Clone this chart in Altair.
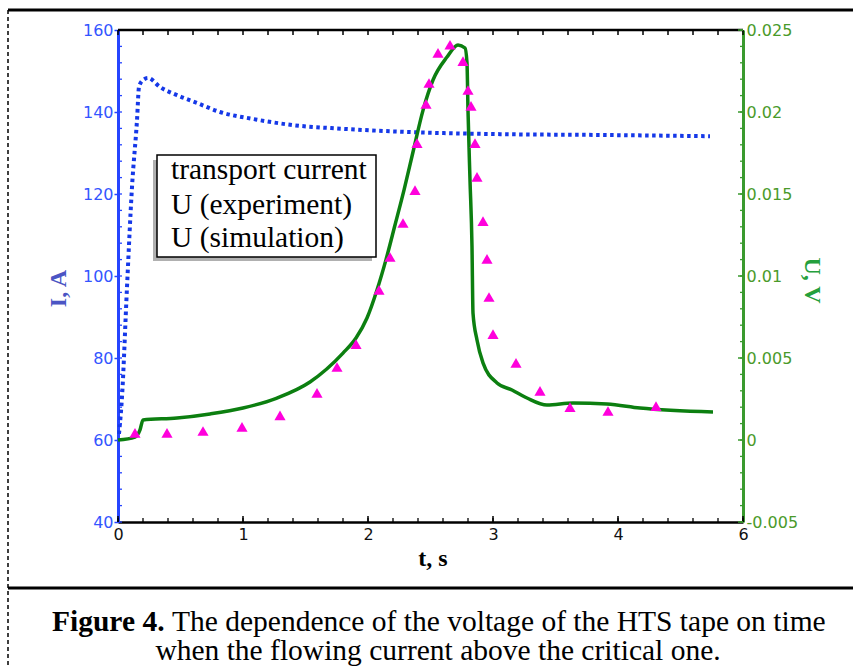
import altair as alt
import pandas as pd

W, H = 625, 492

# ---- data ----
cur_t = [0.008, 0.032, 0.072, 0.112, 0.152, 0.168, 0.2, 0.24, 0.336, 0.472, 0.632, 0.816,
         1.08, 1.4, 1.8, 2.336, 3.056, 3.856, 4.736]
cur_I = [61.5, 70.5, 97.3, 121.7, 138.0, 146.1, 147.8, 148.3, 146.1, 144.1, 142.2, 140.0,
         138.3, 136.8, 135.9, 135.1, 134.6, 134.4, 134.1]

sim_t = [0.0, 0.136, 0.176, 0.2, 0.472, 0.736, 1.0, 1.272, 1.536, 1.8, 1.904, 1.992, 2.072,
         2.144, 2.216, 2.288, 2.36, 2.44, 2.52, 2.632, 2.72, 2.776, 2.792, 2.8, 2.816, 2.832,
         2.84, 2.872, 2.92, 3.032, 3.152, 3.272, 3.432, 3.64, 3.912, 4.176, 4.76]
sim_U = [0.0, 0.00018, 0.00061, 0.00122, 0.00134, 0.00159, 0.00195, 0.00256, 0.00354, 0.0053,
         0.00622, 0.00744, 0.00915, 0.011, 0.01311, 0.01524, 0.01756, 0.0201, 0.02195, 0.02335,
         0.02409, 0.0239, 0.023, 0.0201, 0.01585, 0.01177, 0.00774, 0.0061, 0.0047, 0.00348,
         0.00305, 0.00256, 0.00213, 0.00226, 0.0022, 0.00195, 0.00171]

exp_t = [0.136, 0.392, 0.68, 0.992, 1.296, 1.592, 1.752, 1.904, 2.088, 2.176, 2.28, 2.376,
         2.392, 2.464, 2.488, 2.56, 2.656, 2.76, 2.8, 2.824, 2.856, 2.872, 2.92, 2.952, 2.968,
         3.0, 3.184, 3.376, 3.616, 3.92, 4.304]
exp_U = [0.00043, 0.00043, 0.00055, 0.0008, 0.0015, 0.00287, 0.00445, 0.00585, 0.00915,
         0.01116, 0.01323, 0.01524, 0.0181, 0.0205, 0.02177, 0.0236, 0.0241, 0.0231, 0.02134,
         0.02037, 0.0181, 0.01604, 0.01335, 0.01104, 0.00872, 0.00646, 0.0047, 0.003, 0.002,
         0.00177, 0.00207]

x_major = [0, 1, 2, 3, 4, 5]
x_labels_map = "datum.value == 5 ? '6' : datum.label"
x_minor = [round(i * 0.2, 1) for i in range(26)]
left_major = [40, 60, 80, 100, 120, 140, 160]
left_minor = list(range(40, 161, 4))
right_major = [-0.005, 0.0, 0.005, 0.01, 0.015, 0.02, 0.025]
right_minor = [round(-0.005 + i * 0.001, 3) for i in range(31)]

legend_lines = ["transport current", "U (experiment)", "U (simulation)"]
caption_bold = "Figure 4."
caption_rest = "The dependence of the voltage of the HTS tape on time"
caption_line2 = "when the flowing current above the critical one."

# ---- styles ----
SANS = "DejaVu Sans"
SERIF = "Liberation Serif"
BLUE_AX = "#2645ff"
BLUE_LINE = "#1538e8"
GREEN_AX = "#3a9a2e"
GREEN_LINE = "#0c7f10"
MAGENTA = "#ff00dc"

xscale = alt.Scale(domain=[0, 5], nice=False, zero=False)
xaxis = alt.Axis(title="t, s", values=x_major, labelExpr=x_labels_map, grid=False,
                 domainColor="black", domainWidth=2.5, ticks=False, tickSize=0,
                 labelFont=SANS, labelFontSize=16, labelColor="#111111", labelPadding=4,
                 labelFlush=False, titleFont=SERIF, titleFontSize=24, titleFontWeight="bold",
                 titleColor="black", titleX=W / 2 + 2, titleY=36, titleBaseline="middle",
                 titleAlign="center")

lscale = alt.Scale(domain=[40, 160], nice=False, zero=False)
laxis = alt.Axis(title="I, A", orient="left", values=left_major, grid=False,
                 domainColor=BLUE_AX, domainWidth=3, tickColor=BLUE_AX, tickSize=4, tickWidth=1.5,
                 labelFont=SANS, labelFontSize=16, labelColor="#3355ff", labelPadding=1,
                 labelFlush=False, titleFont=SERIF, titleFontSize=24, titleFontWeight="bold",
                 titleColor="#4b55c4", titleAngle=270, titleX=-60, titleY=258,
                 titleBaseline="middle", titleAlign="center")

rscale = alt.Scale(domain=[-0.005, 0.025], nice=False, zero=False)
raxis = alt.Axis(title="U, V", orient="right", values=right_major, grid=False,
                 labelExpr="'' + round(datum.value * 1000) / 1000",
                 domainColor=GREEN_AX, domainWidth=3, ticks=False, tickSize=0,
                 labelFont=SANS, labelFontSize=16, labelColor="#4a9a2a", labelPadding=3,
                 labelFlush=False, titleFont=SERIF, titleFontSize=24, titleFontWeight="bold",
                 titleColor="#25a03c", titleAngle=90, titleX=68, titleY=250,
                 titleBaseline="middle", titleAlign="center")


def X(f):
    return alt.X(f, type="quantitative", scale=xscale, axis=xaxis)


def YL(f):
    return alt.Y(f, type="quantitative", scale=lscale, axis=laxis)


def YR(f):
    return alt.Y(f, type="quantitative", scale=rscale, axis=raxis)


cur_df = pd.DataFrame({"t": cur_t, "I": cur_I})
sim_df = pd.DataFrame({"t": sim_t, "U": sim_U})
exp_df = pd.DataFrame({"t": exp_t, "U": exp_U})

blue = alt.Chart(cur_df).mark_line(color=BLUE_LINE, strokeWidth=4, strokeDash=[3.5, 3.5],
                                   interpolate="monotone").encode(x=X("t"), y=YL("I"))

lmin = alt.Chart(pd.DataFrame({"v": left_minor})).mark_rule(color=BLUE_AX, strokeWidth=1.3).encode(
    y=YL("v"), x=alt.value(0), x2=alt.value(4))

bot_min = alt.Chart(pd.DataFrame({"t": x_minor})).mark_rule(color="black", strokeWidth=1.3).encode(
    x=X("t"), y=alt.value(H), y2=alt.value(H - 4))
bot_maj = alt.Chart(pd.DataFrame({"t": x_major})).mark_rule(color="black", strokeWidth=1.5).encode(
    x=X("t"), y=alt.value(H), y2=alt.value(H - 6))
top_t = alt.Chart(pd.DataFrame({"t": x_minor})).mark_rule(color="black", strokeWidth=1.5).encode(
    x=X("t"), y=alt.value(0), y2=alt.value(5))
top_line = alt.Chart(alt.Data(values=[{}])).mark_rule(color="black", strokeWidth=2.5).encode(
    x=alt.value(0), x2=alt.value(W), y=alt.value(0))

left_group = alt.layer(blue, lmin, bot_min, bot_maj, top_t, top_line)

green = alt.Chart(sim_df).mark_line(color=GREEN_LINE, strokeWidth=3.5,
                                    interpolate="monotone").encode(x=X("t"), y=YR("U"))
tri = alt.Chart(exp_df).mark_point(shape="triangle-up", filled=True, size=125, opacity=1,
                                   color=MAGENTA).encode(x=X("t"), y=YR("U"))
rmin = alt.Chart(pd.DataFrame({"v": right_minor})).mark_rule(color=GREEN_AX, strokeWidth=1.3).encode(
    y=YR("v"), x=alt.value(W - 3), x2=alt.value(W))
rmaj = alt.Chart(pd.DataFrame({"v": right_major})).mark_rule(color=GREEN_AX, strokeWidth=1.5).encode(
    y=YR("v"), x=alt.value(W - 5), x2=alt.value(W))

right_group = alt.layer(green, tri, rmin, rmaj)

ONE = alt.Data(values=[{}])


def txt(s, x, y, size, weight="normal", align="left", color="black", font=SERIF):
    return alt.Chart(ONE).mark_text(text=s, font=font, fontSize=size, fontWeight=weight,
                                    align=align, baseline="alphabetic", color=color).encode(
        x=alt.value(x), y=alt.value(y))


def rect(x, x2, y, y2, fill, stroke=None, sw=0):
    kw = dict(fill=fill, strokeWidth=sw)
    if stroke:
        kw["stroke"] = stroke
    return alt.Chart(ONE).mark_rect(**kw).encode(
        x=alt.value(x), x2=alt.value(x2), y=alt.value(y), y2=alt.value(y2))


def line(x, x2, y, y2, width, dash=None):
    kw = dict(color="black", strokeWidth=width)
    if dash:
        kw["strokeDash"] = dash
    return alt.Chart(ONE).mark_rule(**kw).encode(
        x=alt.value(x), x2=alt.value(x2), y=alt.value(y), y2=alt.value(y2))


legend = alt.layer(
    rect(35, 254, 130, 231, "#b0b0b0"),
    rect(39, 258, 125, 227, "white", "black", 1.5),
    txt(legend_lines[0], 53, 149, 29.5),
    txt(legend_lines[1], 53, 184, 29.5),
    txt(legend_lines[2], 53, 217, 29.5),
)

frame = alt.layer(
    line(-110, 735, -20, -20, 3),
    line(-110, -110, -20, 638, 1.5, [4, 3]),
    line(-110, 735, 558, 558, 3),
    txt(caption_bold, -66, 601, 29.5, weight="bold"),
    txt(caption_rest, 54, 601, 29.5),
    txt(caption_line2, 320, 630, 29.5, align="center"),
)

chart = alt.layer(left_group, right_group, legend, frame).resolve_scale(
    y="independent"
).properties(
    width=W, height=H,
    autosize=alt.AutoSizeParams(type="none"),
    padding={"left": 118, "top": 30, "right": 110, "bottom": 146},
    background="white",
).configure_view(stroke=None)

chart.save("out.html", embed_options={"renderer": "svg", "actions": False})
